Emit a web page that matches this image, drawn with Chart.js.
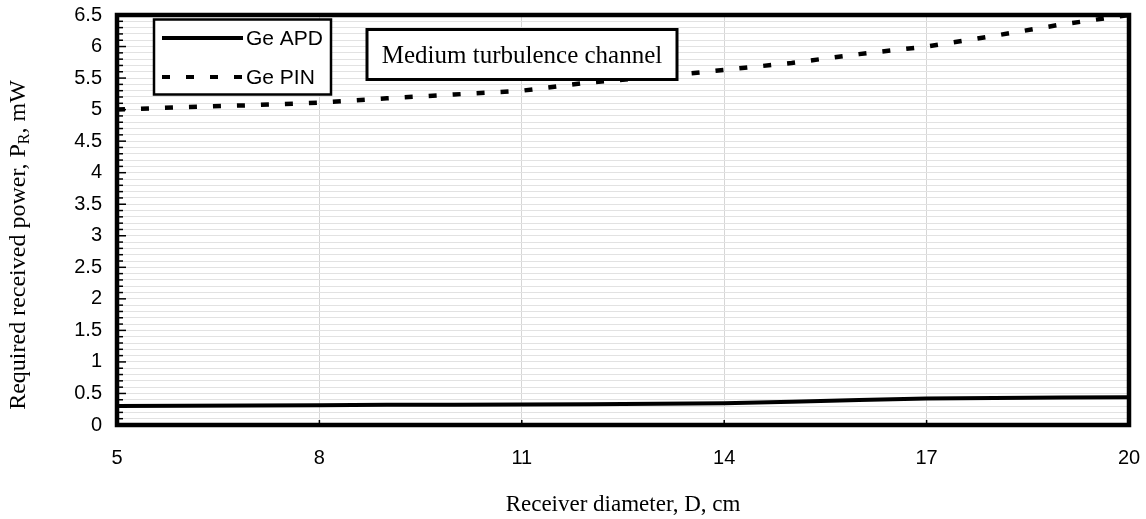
<!DOCTYPE html>
<html>
<head>
<meta charset="utf-8">
<script src="https://cdn.jsdelivr.net/npm/chart.js@4"></script>
<style>
  html, body { margin: 0; padding: 0; background: #fff; }
  #chart { display: block; }
</style>
</head>
<body>
<canvas id="chart" width="1146" height="519"></canvas>
<script>
var diameters = [5, 6, 7, 8, 9, 10, 11, 12, 13, 14, 15, 16, 17, 18, 19, 20];
var ge_apd = [0.30, 0.305, 0.31, 0.315, 0.32, 0.32, 0.325, 0.33, 0.335, 0.345, 0.37, 0.395, 0.42, 0.43, 0.435, 0.44];
var ge_pin = [5.00, 5.04, 5.07, 5.11, 5.18, 5.24, 5.30, 5.43, 5.52, 5.63, 5.74, 5.88, 6.00, 6.17, 6.35, 6.50];
var x_ticks = [5, 8, 11, 14, 17, 20];
var series_names = ['Ge APD', 'Ge PIN'];
var box_text = 'Medium turbulence channel';

var sans = '"Liberation Sans", Arial, sans-serif';
var serif = '"Liberation Serif", "Times New Roman", serif';

function to_points(xs, ys) {
    return xs.map(function(x, i) {
        return { x: x, y: ys[i] };
    });
}

function is_major(v) {
    return Math.abs(v * 2 - Math.round(v * 2)) < 1e-6;
}

// keep label overhang from shrinking the plot area
function no_pad(scale) {
    scale.paddingLeft = 0;
    scale.paddingRight = 0;
    scale.paddingTop = 0;
    scale.paddingBottom = 0;
}

// frame, inner ticks, legend, text box and axis titles
var decorations = {
    id: 'decorations',
    afterDraw: function(chart) {
        var ctx = chart.ctx;
        var area = chart.chartArea;
        var xs = chart.scales.x;
        var ys = chart.scales.y;
        ctx.save();

        // inner tick marks
        ctx.strokeStyle = '#000';
        ctx.lineWidth = 1.5;
        ys.ticks.forEach(function(t) {
            var y = ys.getPixelForValue(t.value);
            var len = is_major(t.value) ? 7 : 4;
            ctx.beginPath();
            ctx.moveTo(area.left, y);
            ctx.lineTo(area.left + 2 + len, y);
            ctx.stroke();
        });
        x_ticks.forEach(function(v) {
            var x = xs.getPixelForValue(v);
            ctx.beginPath();
            ctx.moveTo(x, area.bottom);
            ctx.lineTo(x, area.bottom - 5);
            ctx.stroke();
        });

        // plot frame
        ctx.lineWidth = 4.5;
        ctx.strokeRect(area.left, area.top, area.right - area.left, area.bottom - area.top);

        // legend
        var ds = chart.data.datasets;
        ctx.fillStyle = '#fff';
        ctx.fillRect(154, 19.5, 177, 75);
        ctx.lineWidth = 2.5;
        ctx.strokeRect(154, 19.5, 177, 75);
        var rows = [38, 77];
        ctx.font = '21px ' + sans;
        ctx.textBaseline = 'middle';
        ctx.textAlign = 'left';
        ds.forEach(function(d, i) {
            ctx.beginPath();
            ctx.lineWidth = 4;
            ctx.strokeStyle = d.borderColor;
            ctx.setLineDash(d.borderDash || []);
            ctx.moveTo(162, rows[i]);
            ctx.lineTo(243, rows[i]);
            ctx.stroke();
            ctx.setLineDash([]);
            ctx.fillStyle = '#000';
            ctx.fillText(d.label, 246, rows[i] + 1);
        });

        // text box
        ctx.fillStyle = '#fff';
        ctx.fillRect(367, 29.5, 310, 50);
        ctx.strokeStyle = '#000';
        ctx.lineWidth = 3;
        ctx.strokeRect(367, 29.5, 310, 50);
        ctx.fillStyle = '#000';
        ctx.font = '25px ' + serif;
        ctx.textAlign = 'center';
        ctx.fillText(box_text, 522, 56);

        // x title
        ctx.font = '23px ' + serif;
        ctx.fillText('Receiver diameter, D, cm', (area.left + area.right) / 2, 505);

        // y title with subscript
        ctx.translate(19, 245);
        ctx.rotate(-Math.PI / 2);
        var a = 'Required received power, P';
        var b = 'R';
        var c = ', mW';
        ctx.font = '24px ' + serif;
        var wa = ctx.measureText(a).width;
        var wc = ctx.measureText(c).width;
        ctx.font = '16px ' + serif;
        var wb = ctx.measureText(b).width;
        var x0 = -(wa + wb + wc) / 2;
        ctx.textAlign = 'left';
        ctx.font = '24px ' + serif;
        ctx.fillText(a, x0, 0);
        ctx.font = '16px ' + serif;
        ctx.fillText(b, x0 + wa, 6);
        ctx.font = '24px ' + serif;
        ctx.fillText(c, x0 + wa + wb, 0);

        ctx.restore();
    }
};

var ctx = document.getElementById('chart');

new Chart(ctx, {
    type: 'line',
    data: {
        datasets: [{
            label: series_names[0],
            data: to_points(diameters, ge_apd),
            borderColor: '#000',
            borderWidth: 4,
            pointRadius: 0,
            tension: 0,
            fill: false
        }, {
            label: series_names[1],
            data: to_points(diameters, ge_pin),
            borderColor: '#000',
            borderWidth: 4.5,
            borderDash: [8, 16],
            borderCapStyle: 'butt',
            pointRadius: 0,
            tension: 0,
            fill: false
        }]
    },
    options: {
        responsive: false,
        maintainAspectRatio: false,
        animation: false,
        layout: { padding: { top: 15, right: 17, left: 0, bottom: 0 } },
        plugins: {
            legend: { display: false },
            tooltip: { enabled: false }
        },
        scales: {
            x: {
                type: 'linear',
                min: 5,
                max: 20,
                afterFit: function(scale) { scale.height = 94; no_pad(scale); },
                afterBuildTicks: function(scale) {
                    scale.ticks = x_ticks.map(function(v) { return { value: v }; });
                },
                grid: { color: '#d6d6d6', lineWidth: 1, drawTicks: false },
                border: { display: false },
                ticks: {
                    padding: 21,
                    color: '#000',
                    font: { family: sans, size: 20 }
                }
            },
            y: {
                min: 0,
                max: 6.5,
                afterFit: function(scale) { scale.width = 117; no_pad(scale); },
                grid: { color: '#e2e2e2', lineWidth: 1, drawTicks: false },
                border: { display: false },
                ticks: {
                    stepSize: 0.1,
                    autoSkip: false,
                    padding: 15,
                    color: '#000',
                    font: { family: sans, size: 20 },
                    callback: function(value) {
                        return is_major(value) ? String(Number(value.toFixed(1))) : '';
                    }
                }
            }
        }
    },
    plugins: [decorations]
});
</script>
</body>
</html>
